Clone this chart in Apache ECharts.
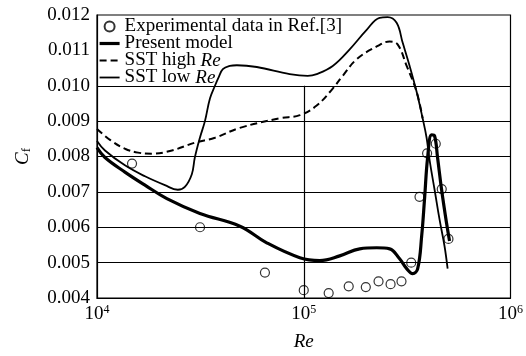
<!DOCTYPE html>
<html>
<head>
<meta charset="utf-8">
<style>
  html, body { margin: 0; padding: 0; background: #fff; }
  #chart { width: 526px; height: 356px; }
</style>
<script src="https://cdn.jsdelivr.net/npm/echarts@6/dist/echarts.min.js"></script>
</head>
<body>
<div id="chart"></div>
<script>
// Skin-friction coefficient Cf versus Reynolds number Re

// Experimental data (Ref.[3])
const expRe = [14770, 31500, 64900, 100000, 132000, 165000, 199600, 230000, 263000, 297000, 331000, 363000, 395000, 435000, 465000, 501000];
const expCf = [0.00780, 0.00600, 0.00472, 0.00422, 0.00414, 0.00433, 0.00431, 0.00447, 0.00439, 0.00447, 0.00500, 0.00686, 0.00809, 0.00836, 0.00708, 0.00567];

// Present model
const presentRe = [10000, 10930, 13650, 17060, 21770, 31460, 49100, 66200, 95700, 119500, 149200, 186500, 225400, 260300, 290800, 314600, 336400, 355700, 371800, 384600, 397300, 415100, 429400, 443800, 464300, 490700, 507200];
const presentCf = [0.00825, 0.00797, 0.00756, 0.00719, 0.00681, 0.00639, 0.00603, 0.00556, 0.00514, 0.00506, 0.00519, 0.00539, 0.00542, 0.00539, 0.00511, 0.00483, 0.00469, 0.00483, 0.00575, 0.00686, 0.00797, 0.00861, 0.00858, 0.00797, 0.00706, 0.00611, 0.00561];

// SST model, low-Re version
const sstLowRe = [10000, 10930, 13650, 17060, 21300, 24600, 26600, 28750, 29730, 31460, 33270, 35180, 37200, 38840, 40620, 43920, 47460, 59300, 85500, 104500, 115500, 138100, 166800, 201500, 232600, 254500, 281300, 300800, 325200, 351500, 375800, 392800, 406300, 429400, 453700, 479500, 496500];
const sstLowCf = [0.00844, 0.00817, 0.00775, 0.00744, 0.00719, 0.00706, 0.00714, 0.00750, 0.00797, 0.00853, 0.00900, 0.00964, 0.01000, 0.01025, 0.01047, 0.01056, 0.01058, 0.01053, 0.01033, 0.01028, 0.01033, 0.01056, 0.01103, 0.01158, 0.01192, 0.01194, 0.01178, 0.01122, 0.01056, 0.00983, 0.00908, 0.00853, 0.00789, 0.00706, 0.00622, 0.00547, 0.00483];

// SST model, high-Re version
const sstHighRe = [10000, 11560, 13650, 15780, 18450, 23030, 29730, 37200, 49100, 76500, 95700, 115500, 138100, 154300, 180300, 225400, 260300, 284400, 314600, 351500, 375800];
const sstHighCf = [0.00878, 0.00847, 0.00822, 0.00811, 0.00808, 0.00817, 0.00839, 0.00853, 0.00881, 0.00908, 0.00917, 0.00944, 0.00992, 0.01028, 0.01075, 0.01111, 0.01125, 0.01117, 0.01056, 0.00983, 0.00908];

// Axis ticks and grid rules
const xTickExp = [4, 5, 6];
const yTicks = [0.004, 0.005, 0.006, 0.007, 0.008, 0.009, 0.010, 0.011, 0.012];
const gridCf = [0.005, 0.006, 0.007, 0.008, 0.009, 0.010];
const gridRe = [100000];
const gridTop = 0.010;

const names = ['Experimental data in Ref.[3]', 'Present model', 'SST high Re', 'SST low Re'];

const zip = (xs, ys) => xs.map((x, i) => [x, ys[i]]);
const FONT = 'Liberation Serif';

const ruleLines = [];
gridCf.forEach(v => ruleLines.push([{ coord: [1e4, v] }, { coord: [1e6, v] }]));
gridRe.forEach(v => ruleLines.push([{ coord: [v, 0.004] }, { coord: [v, gridTop] }]));

const lineStyles = {
  present: { color: '#000', width: 3.2 },
  high: { color: '#000', width: 2, type: [7, 4] },
  low: { color: '#000', width: 1.8 }
};

const chart = echarts.init(document.getElementById('chart'), null, { renderer: 'canvas' });

chart.setOption({
  animation: false,
  backgroundColor: '#fff',
  grid: {
    left: 97, right: 14, top: 15, bottom: 52,
    show: true, borderColor: '#000', borderWidth: 1.2, backgroundColor: 'transparent'
  },
  legend: {
    orient: 'vertical',
    left: 98, top: 17,
    itemWidth: 20, itemHeight: 10, itemGap: -2,
    padding: 0,
    data: [
      { name: names[0] },
      { name: names[1], lineStyle: lineStyles.present },
      { name: names[2], lineStyle: lineStyles.high },
      { name: names[3], lineStyle: lineStyles.low }
    ],
    textStyle: {
      fontFamily: FONT, fontSize: 19, color: '#000', lineHeight: 17,
      rich: {
        n: { fontFamily: FONT, fontSize: 19, color: '#000', lineHeight: 17 },
        i: { fontFamily: FONT, fontSize: 19, color: '#000', fontStyle: 'italic', lineHeight: 17 }
      }
    },
    formatter: name => {
      const m = name.match(/^(.*) (Re)$/);
      return m ? '{n|' + m[1] + ' }{i|Re}' : '{n|' + name + '}';
    }
  },
  xAxis: {
    type: 'log', logBase: 10, min: 1e4, max: 1e6,
    name: 'Re', nameLocation: 'middle', nameGap: 34,
    nameTextStyle: { fontFamily: FONT, fontSize: 19, fontStyle: 'italic', color: '#000' },
    axisLine: { show: true, lineStyle: { color: '#000', width: 1.2 } },
    axisTick: { show: false },
    minorTick: { show: false },
    splitLine: { show: false },
    axisLabel: {
      margin: 6,
      color: '#000',
      formatter: v => {
        const e = Math.round(Math.log10(v));
        return xTickExp.includes(e) ? '{b|10}{s|' + e + '}' : '';
      },
      rich: {
        b: { fontFamily: FONT, fontSize: 19, color: '#000' },
        s: { fontFamily: FONT, fontSize: 12, color: '#000', padding: [0, 0, 9, 0] }
      }
    }
  },
  yAxis: {
    type: 'value', min: 0.004, max: 0.012, interval: 0.001,
    name: '{c|C}{f|f}', nameLocation: 'middle', nameGap: 64, nameRotate: 90,
    nameTextStyle: {
      color: '#000',
      rich: {
        c: { fontFamily: FONT, fontSize: 19, fontStyle: 'italic', color: '#000' },
        f: { fontFamily: FONT, fontSize: 13, color: '#000', padding: [7, 0, 0, 0] }
      }
    },
    axisLine: { show: true, lineStyle: { color: '#000', width: 1.2 } },
    axisTick: { show: false },
    splitLine: { show: false },
    axisLabel: {
      margin: 7,
      fontFamily: FONT, fontSize: 19, color: '#000',
      formatter: v => {
        const hit = yTicks.find(t => Math.abs(t - v) < 1e-9);
        return hit !== undefined ? hit.toFixed(3) : '';
      }
    }
  },
  series: [
    {
      name: 'grid-rules',
      type: 'line',
      data: [],
      silent: true,
      z: 1,
      markLine: {
        silent: true,
        symbol: 'none',
        label: { show: false },
        lineStyle: { color: '#000', width: 1.2, type: 'solid' },
        emphasis: { disabled: true },
        animation: false,
        data: ruleLines
      }
    },
    {
      name: names[0],
      type: 'scatter',
      data: zip(expRe, expCf),
      symbol: 'circle',
      symbolSize: 9,
      z: 5,
      itemStyle: { color: 'transparent', borderColor: '#000', borderWidth: 1.2 }
    },
    {
      name: names[1],
      type: 'line',
      data: zip(presentRe, presentCf),
      smooth: 0.4,
      symbol: 'none',
      z: 4,
      itemStyle: { color: 'transparent' },
      lineStyle: lineStyles.present
    },
    {
      name: names[2],
      type: 'line',
      data: zip(sstHighRe, sstHighCf),
      smooth: 0.4,
      symbol: 'none',
      z: 3,
      itemStyle: { color: 'transparent' },
      lineStyle: lineStyles.high
    },
    {
      name: names[3],
      type: 'line',
      data: zip(sstLowRe, sstLowCf),
      smooth: 0.4,
      symbol: 'none',
      z: 3,
      itemStyle: { color: 'transparent' },
      lineStyle: lineStyles.low
    }
  ]
});
</script>
</body>
</html>
